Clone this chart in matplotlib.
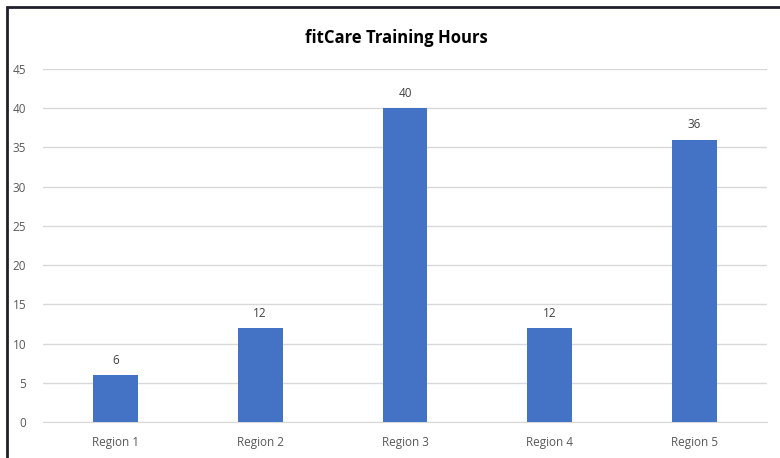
import matplotlib.pyplot as plt
from matplotlib.patches import Rectangle

categories = ["Region 1", "Region 2", "Region 3", "Region 4", "Region 5"]
hours = [6, 12, 40, 12, 36]
y_ticks = [0, 5, 10, 15, 20, 25, 30, 35, 40, 45]

BAR_COLOR = "#4472C4"
TEXT_COLOR = "#595959"

plt.rcParams["font.family"] = ["Open Sans", "DejaVu Sans"]

fig = plt.figure(figsize=(7.8, 4.58), dpi=100)
ax = fig.add_axes([0.0551, 0.0786, 0.9282, 0.7707])

x = range(len(categories))
bars = ax.bar(x, hours, width=0.31, color=BAR_COLOR, zorder=3)
for rect, val in zip(bars, hours):
    ax.annotate(str(val), (rect.get_x() + rect.get_width() / 2, val),
                xytext=(0, 6), textcoords="offset points",
                ha="center", va="bottom", fontsize=8.5, color="#404040")

ax.set_xlim(-0.5, 4.5)
ax.set_ylim(0, 45)
ax.set_yticks(y_ticks)
ax.set_xticks(list(x))
ax.set_xticklabels(categories)
ax.grid(axis="y", color="#d9d9d9", linewidth=1, zorder=0)
for side in ["top", "right", "left"]:
    ax.spines[side].set_visible(False)
ax.spines["bottom"].set_color("#d9d9d9")
ax.tick_params(axis="both", length=0, labelsize=8.5, colors=TEXT_COLOR)
ax.tick_params(axis="y", pad=12)
ax.tick_params(axis="x", pad=10)

fig.text(0.508, 0.918, "fitCare Training Hours", ha="center", va="center",
         fontsize=12, fontweight="bold", color="#000000")

# outer frame, cut off on right and bottom as in the screenshot
fig.patches.append(Rectangle((0.009, -0.05), 1.1, 1.035, transform=fig.transFigure,
                             fill=False, edgecolor="#1f1f2e", linewidth=2))

fig.savefig("out.png", dpi=100)
